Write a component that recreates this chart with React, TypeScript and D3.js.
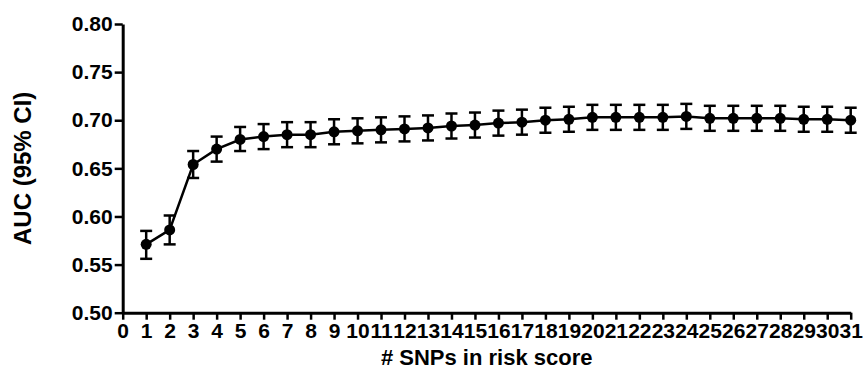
import React, { useEffect, useRef } from "react";
import * as d3 from "d3";

// number of SNPs in the risk score
const snps = [1, 2, 3, 4, 5, 6, 7, 8, 9, 10, 11, 12, 13, 14, 15, 16, 17, 18, 19, 20, 21, 22, 23, 24, 25, 26, 27, 28, 29, 30, 31];
const auc = [0.571, 0.586, 0.654, 0.670, 0.680, 0.683, 0.685, 0.685, 0.688, 0.689, 0.690, 0.691, 0.692, 0.694, 0.695, 0.697, 0.698, 0.700, 0.701, 0.703, 0.703, 0.703, 0.703, 0.704, 0.702, 0.702, 0.702, 0.702, 0.701, 0.701, 0.700];
const lower = [0.556, 0.571, 0.640, 0.657, 0.668, 0.670, 0.672, 0.672, 0.675, 0.676, 0.677, 0.678, 0.679, 0.681, 0.682, 0.684, 0.685, 0.687, 0.688, 0.690, 0.690, 0.690, 0.690, 0.691, 0.689, 0.689, 0.689, 0.689, 0.688, 0.688, 0.687];
const upper = [0.585, 0.601, 0.668, 0.683, 0.693, 0.696, 0.698, 0.698, 0.701, 0.702, 0.703, 0.704, 0.705, 0.707, 0.708, 0.710, 0.711, 0.713, 0.714, 0.716, 0.716, 0.716, 0.716, 0.717, 0.715, 0.715, 0.715, 0.715, 0.714, 0.714, 0.713];
const yTicks = [0.5, 0.55, 0.6, 0.65, 0.7, 0.75, 0.8];
const xTicks = d3.range(0, 32);

const W = 863;
const H = 377;
const font = "Arial, 'Liberation Sans', Helvetica, sans-serif";

const App = () => {
  const ref = useRef<SVGSVGElement>(null);

  useEffect(() => {
    const svg = d3.select(ref.current);
    svg.selectAll("*").remove();

    const x = d3.scaleLinear().domain([0, 31]).range([122.7, 850.7]);
    const y = d3.scaleLinear().domain([0.5, 0.8]).range([312.7, 24]);

    // axes
    const ya = svg.append("g")
      .attr("transform", `translate(${x(0)},0)`)
      .call(d3.axisLeft(y).tickValues(yTicks).tickFormat(d3.format(".2f")).tickSize(8).tickSizeOuter(0).tickPadding(2));
    const xa = svg.append("g")
      .attr("transform", `translate(0,${y(0.5)})`)
      .call(d3.axisBottom(x).tickValues(xTicks).tickFormat(d3.format("d")).tickSize(7).tickSizeOuter(0).tickPadding(3));

    [ya, xa].forEach((g) => {
      g.attr("font-size", 21).attr("font-family", font);
      g.select(".domain").attr("stroke", "#000").attr("stroke-width", 3);
      g.selectAll(".tick line").attr("stroke", "#000").attr("stroke-width", 2.5);
      g.selectAll(".tick text")
        .attr("fill", "#000")
        .style("font-weight", "bold");
    });

    const rows = snps.map((s, i) => ({ s, v: auc[i], lo: lower[i], hi: upper[i] }));

    // error bars
    const eb = svg.append("g").attr("stroke", "#000").attr("stroke-width", 2.5);
    rows.forEach((d) => {
      eb.append("line").attr("x1", x(d.s)).attr("x2", x(d.s)).attr("y1", y(d.lo)).attr("y2", y(d.hi));
      eb.append("line").attr("x1", x(d.s) - 6).attr("x2", x(d.s) + 6).attr("y1", y(d.lo)).attr("y2", y(d.lo));
      eb.append("line").attr("x1", x(d.s) - 6).attr("x2", x(d.s) + 6).attr("y1", y(d.hi)).attr("y2", y(d.hi));
    });

    // line + markers
    const line = d3.line<{ s: number; v: number }>().x((d) => x(d.s)).y((d) => y(d.v));
    svg.append("path")
      .datum(rows)
      .attr("d", line)
      .attr("fill", "none")
      .attr("stroke", "#000")
      .attr("stroke-width", 2.5);

    svg.selectAll(".dot")
      .data(rows)
      .enter().append("circle")
      .attr("class", "dot")
      .attr("cx", (d) => x(d.s))
      .attr("cy", (d) => y(d.v))
      .attr("r", 5.5)
      .attr("fill", "#000");

    // axis titles
    svg.append("text")
      .attr("x", (x(0) + x(31)) / 2)
      .attr("y", 365)
      .attr("text-anchor", "middle")
      .style("font-family", font)
      .style("font-weight", "bold")
      .style("font-size", "22px")
      .text("# SNPs in risk score");

    svg.append("text")
      .attr("transform", `translate(31,${(y(0.5) + y(0.8)) / 2}) rotate(-90)`)
      .attr("text-anchor", "middle")
      .style("font-family", font)
      .style("font-weight", "bold")
      .style("font-size", "24px")
      .text("AUC (95% CI)");
  }, []);

  return (
    <div>
      <style>{"body{margin:0;background:#fff}"}</style>
      <svg ref={ref} width={W} height={H} style={{ display: "block" }}></svg>
    </div>
  );
};

export default App;
